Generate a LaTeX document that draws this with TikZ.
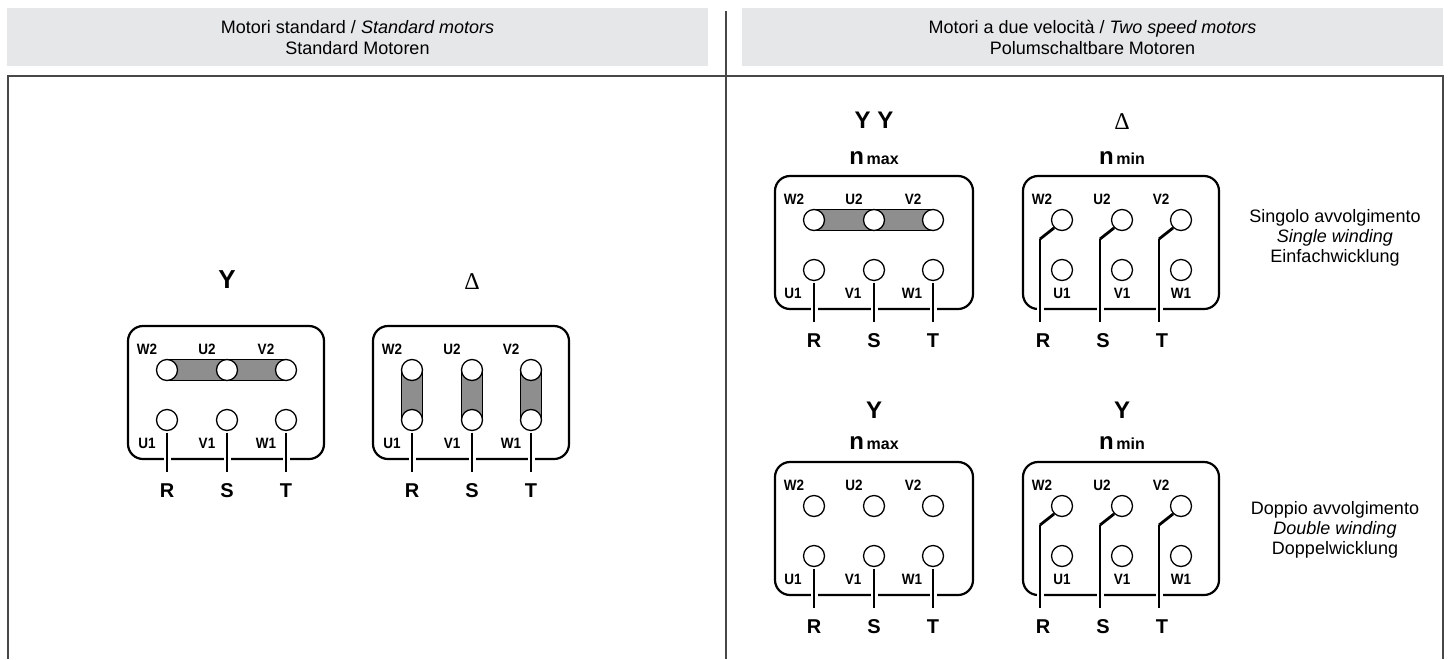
\documentclass[tikz,border=0pt]{standalone}
\usepackage{fontspec}
\setmainfont{Liberation Sans}
\newfontfamily\narrowsf{Liberation Sans}[FakeStretch=0.9]
\newfontfamily\deltafont{Liberation Serif}
\usepackage{tikz}
\usetikzlibrary{calc, positioning}

\definecolor{headgray}{HTML}{E6E7E8}
\definecolor{rulegray}{HTML}{474747}
\definecolor{bargray}{HTML}{8E8E8E}

% six terminals of a board, #1 = x shift of the lower tags
\newcommand{\boardterminals}[1]{%
  \foreach \x/\up/\lo in {39/W2/U1, 99/U2/V1, 158/V2/W1} {
    \node[terminal] (\up) at (\x,44) {};
    \node[terminal] (\lo) at (\x,94) {};
    \node[termtag] (\up-tag) at (\x-20,23) {\up};
    \node[termtag] (\lo-tag) at (\x+#1,117) {\lo};
  }
}
% supply leads straight down from U1, V1, W1
\newcommand{\straightleads}{%
  \foreach \x/\lo/\ph in {39/U1/R, 99/V1/S, 158/W1/T} {
    \node[phasetag] (\ph) at (\x,164.5) {\ph};
    \draw[leadgap] (\x,127) -- (\x,139);
    \draw[lead, shorten <=1.5pt] (\lo.south) -- (\ph.north);
  }
}
% supply leads bent to W2, U2, V2
\newcommand{\bentleads}{%
  \foreach \x/\up/\ph in {39/W2/R, 99/U2/S, 158/V2/T} {
    \coordinate (\ph-bend) at (\x-22,63);
    \node[phasetag] (\ph) at (\x-19,164.5) {\ph};
    \draw[leadgap] (\x-22,127) -- (\x-22,139);
    \draw[bendlead] (\up.225) -- (\ph-bend);
    \draw[lead] (\ph-bend) -- (\ph-bend |- \ph.north);
  }
}

\begin{document}
\begin{tikzpicture}[x=1pt, y=-1pt,
    rule/.style={rulegray, line width=1.4pt},
    boardframe/.style={line width=2.2pt, rounded corners=15pt},
    linkbar/.style={draw, line width=1.3pt, fill=bargray},
    terminal/.style={circle, draw, fill=white, line width=1.3pt, minimum size=21pt, inner sep=0pt},
    termtag/.style={font=\narrowsf\bfseries\fontsize{15}{15}\selectfont, inner sep=0pt},
    phasetag/.style={font=\bfseries\fontsize{20}{20}\selectfont, inner sep=0pt},
    conntitle/.style={font=\bfseries\fontsize{26}{26}\selectfont, inner sep=0pt},
    deltatitle/.style={font=\deltafont\fontsize{24}{24}\selectfont, inner sep=0pt},
    speedtag/.style={font=\bfseries, inner sep=0pt},
    lead/.style={line width=1.7pt, shorten >=11pt},
    bendlead/.style={line width=2.8pt},
    leadgap/.style={white, line width=7pt},
    sidenote/.style={align=center, font=\fontsize{18}{20}\selectfont},
    headtext/.style={align=center, font=\fontsize{18}{21}\selectfont}]

  \useasboundingbox (0,0) rectangle (1450,659);

  % headers and frame
  \fill[headgray] (7,8) rectangle (708,66);
  \fill[headgray] (742,8) rectangle (1443,66);
  \node[headtext] (head-std) at (357.5,37.5) {Motori standard / \textit{Standard motors}\\Standard Motoren};
  \node[headtext] (head-two) at (1092.5,37.5) {Motori a due velocità / \textit{Two speed motors}\\Polumschaltbare Motoren};
  \draw[rule] (8,659) |- (1443,76) -- (1443,659);
  \draw[rule] (726,11) -- (726,659);

  % standard motors: star
  \begin{scope}[shift={(128,326)}, name prefix=stdY-]
    \draw[boardframe] (0,0) rectangle (196,133);
    \draw[linkbar] (39,33.5) rectangle (158,54.5);
    \boardterminals{-20}
    \straightleads
    \node[conntitle] (title) at (99,-46) {Y};
  \end{scope}

  % standard motors: delta
  \begin{scope}[shift={(373,326)}, name prefix=stdD-]
    \draw[boardframe] (0,0) rectangle (196,133);
    \foreach \x in {39,99,158}
      \draw[linkbar] (\x-10.5,44) rectangle (\x+10.5,94);
    \boardterminals{-20}
    \straightleads
    \node[deltatitle] (title) at (99,-44) {Δ};
  \end{scope}

  % single winding, high speed
  \begin{scope}[shift={(775,176)}, name prefix=oneMax-]
    \draw[boardframe] (0,0) rectangle (198,133);
    \draw[linkbar] (39,33.5) rectangle (158,54.5);
    \boardterminals{-21}
    \straightleads
    \node[conntitle, font=\bfseries\fontsize{24}{24}\selectfont] (title) at (99,-56) {Y\hspace{7pt}Y};
    \node[speedtag] (speed) at (99,-18) {{\fontsize{24}{24}\selectfont n}{\fontsize{16}{16}\selectfont\,max}};
  \end{scope}

  % single winding, low speed
  \begin{scope}[shift={(1023,176)}, name prefix=oneMin-]
    \draw[boardframe] (0,0) rectangle (196,133);
    \boardterminals{0}
    \bentleads
    \node[deltatitle] (title) at (99,-54) {Δ};
    \node[speedtag] (speed) at (99,-18) {{\fontsize{24}{24}\selectfont n}{\fontsize{16}{16}\selectfont\,min}};
  \end{scope}

  % double winding, high speed
  \begin{scope}[shift={(775,462)}, name prefix=twoMax-]
    \draw[boardframe] (0,0) rectangle (198,133);
    \boardterminals{-21}
    \straightleads
    \node[conntitle, font=\bfseries\fontsize{24}{24}\selectfont] (title) at (99,-52) {Y};
    \node[speedtag] (speed) at (99,-19) {{\fontsize{24}{24}\selectfont n}{\fontsize{16}{16}\selectfont\,max}};
  \end{scope}

  % double winding, low speed
  \begin{scope}[shift={(1023,462)}, name prefix=twoMin-]
    \draw[boardframe] (0,0) rectangle (196,133);
    \boardterminals{0}
    \bentleads
    \node[conntitle, font=\bfseries\fontsize{24}{24}\selectfont] (title) at (99,-52) {Y};
    \node[speedtag] (speed) at (99,-19) {{\fontsize{24}{24}\selectfont n}{\fontsize{16}{16}\selectfont\,min}};
  \end{scope}

  % winding notes
  \node[sidenote] (note-single) at (1335,238) {Singolo avvolgimento\\\textit{Single winding}\\Einfachwicklung};
  \node[sidenote] (note-double) at (1335,530) {Doppio avvolgimento\\\textit{Double winding}\\Doppelwicklung};
\end{tikzpicture}
\end{document}
